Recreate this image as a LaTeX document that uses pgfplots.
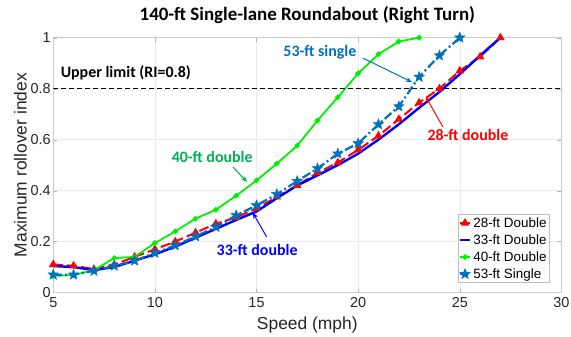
\documentclass[border=0pt]{standalone}
\usepackage{fontspec}
\setmainfont{Liberation Sans}
\newfontfamily\calib{Carlito}
\usepackage{pgfplots}
\pgfplotsset{compat=1.18}
\usetikzlibrary{arrows.meta}
\definecolor{mblue}{rgb}{0,0.447,0.741}
\definecolor{tgreen}{RGB}{0,176,80}
\definecolor{mgreen}{RGB}{0,240,0}
\definecolor{ticktxt}{RGB}{38,38,38}
\pgfdeclareplotmark{fstar}{%
  \pgfpathmoveto{\pgfpointpolar{90}{\pgfplotmarksize}}%
  \pgfpathlineto{\pgfpointpolar{126}{0.42\pgfplotmarksize}}%
  \pgfpathlineto{\pgfpointpolar{162}{\pgfplotmarksize}}%
  \pgfpathlineto{\pgfpointpolar{198}{0.42\pgfplotmarksize}}%
  \pgfpathlineto{\pgfpointpolar{234}{\pgfplotmarksize}}%
  \pgfpathlineto{\pgfpointpolar{270}{0.42\pgfplotmarksize}}%
  \pgfpathlineto{\pgfpointpolar{306}{\pgfplotmarksize}}%
  \pgfpathlineto{\pgfpointpolar{342}{0.42\pgfplotmarksize}}%
  \pgfpathlineto{\pgfpointpolar{18}{\pgfplotmarksize}}%
  \pgfpathlineto{\pgfpointpolar{54}{0.42\pgfplotmarksize}}%
  \pgfpathclose\pgfusepathqfillstroke}
\begin{document}
\begin{tikzpicture}
\useasboundingbox (-53.3bp,-44.3bp) rectangle (518bp,292.7bp);
\begin{axis}[
  at={(0,0)}, anchor=south west,
  scale only axis, width=508.4bp, height=255bp,
  xmin=5, xmax=30, ymin=0, ymax=1,
  xtick={5,10,...,30}, ytick={0,0.2,0.4,0.6,0.8,1},
  yticklabels={0,0.2,0.4,0.6,0.8,1},
  /pgf/number format/assume math mode=true,
  tick label style={font=\fontsize{14.5}{16}\selectfont, text=ticktxt},
  xticklabel style={yshift=-1.5bp},
  yticklabel style={xshift=1bp},
  label style={font=\fontsize{17.5}{19}\selectfont, text=ticktxt},
  xlabel={Speed (mph)}, ylabel={Maximum rollover index},
  xlabel style={at={([yshift=-32bp]axis description cs:0.5,0)}, anchor=center},
  ylabel style={at={([xshift=-33bp]axis description cs:0,0.5)}, anchor=center},
  title={\calib\bfseries 140-ft Single-lane Roundabout (Right Turn)},
  title style={at={([yshift=17bp]axis description cs:0.5,1)}, anchor=center, font=\fontsize{19}{21}\selectfont},
  axis line style={black!20},
  tick style={black!30, major tick length=4pt},
  tick align=inside,
  grid=major, major grid style={black!8},
  legend style={at={(0.977,0.038)}, anchor=south east, font=\fontsize{13.5}{15}\selectfont,
    draw=black!25, inner sep=1pt, row sep=1.8pt, cells={anchor=west}},
  legend cell align=left,
  legend image code/.code={\draw[mark repeat=2,mark phase=2,#1] plot coordinates {(0cm,0cm) (0.18cm,0cm) (0.36cm,0cm)};},
]
\addplot[red, line width=2pt, dash pattern=on 10pt off 4pt, mark=triangle*, mark size=3pt, mark options={solid}] coordinates {
(5,0.11)(6,0.105)(7,0.092)(8,0.11)(9,0.14)(10,0.17)(11,0.20)(12,0.235)(13,0.27)(14,0.295)(15,0.33)(16,0.375)(17,0.42)(18,0.47)(19,0.51)(20,0.56)(21,0.615)(22,0.68)(23,0.745)(24,0.80)(25,0.87)(26,0.925)(27,1.0)};
\addlegendentry{28-ft Double}
\addplot[blue, line width=2.4pt] coordinates {
(5,0.104)(6,0.10)(7,0.088)(8,0.10)(9,0.125)(10,0.15)(11,0.18)(12,0.215)(13,0.25)(14,0.285)(15,0.318)(16,0.37)(17,0.42)(18,0.46)(19,0.50)(20,0.545)(21,0.60)(22,0.66)(23,0.725)(24,0.787)(25,0.857)(26,0.93)(27,1.0)};
\addlegendentry{33-ft Double}
\addplot[mgreen, line width=1.8pt, mark=*, mark size=1.8pt] coordinates {
(5,0.065)(6,0.069)(7,0.088)(8,0.135)(9,0.14)(10,0.194)(11,0.24)(12,0.29)(13,0.325)(14,0.38)(15,0.44)(16,0.506)(17,0.576)(18,0.675)(19,0.766)(20,0.86)(21,0.935)(22,0.985)(23,1.0)};
\addlegendentry{40-ft Double}
\addplot[mblue, line width=2.2pt, dash pattern=on 9pt off 3pt on 2pt off 3pt, mark=fstar, mark size=5.5pt, mark options={solid, line width=0.5pt, fill=mblue}] coordinates {
(5,0.07)(6,0.07)(7,0.085)(8,0.105)(9,0.125)(10,0.155)(11,0.185)(12,0.22)(13,0.257)(14,0.303)(15,0.342)(16,0.386)(17,0.437)(18,0.487)(19,0.545)(20,0.585)(21,0.66)(22,0.73)(23,0.846)(24,0.93)(25,1.0)};
\addlegendentry{53-ft Single}
\draw[black, line width=1pt, dash pattern=on 5pt off 3pt] (axis cs:5,0.8) -- (axis cs:30,0.8);
\node[font=\calib\bfseries\fontsize{16}{18}\selectfont, anchor=west, inner sep=0pt] at (axis cs:5.36,0.862) {Upper limit (RI=0.8)};
\node[font=\calib\bfseries\fontsize{16}{18}\selectfont, text=mblue] at (axis cs:18.12,0.944) {53-ft single};
\draw[mblue, line width=1pt, -{Stealth[length=6pt,width=5pt]}] (axis cs:20.23,0.92) -- (axis cs:22.64,0.826);
\node[font=\calib\bfseries\fontsize{16}{18}\selectfont, text=tgreen] at (axis cs:12.82,0.532) {40-ft double};
\draw[tgreen, line width=1pt, -{Stealth[length=6pt,width=5pt]}] (axis cs:13.84,0.493) -- (axis cs:14.53,0.434);
\node[font=\calib\bfseries\fontsize{16}{18}\selectfont, text=blue] at (axis cs:15.03,0.168) {33-ft double};
\draw[blue, line width=1pt, -{Stealth[length=6pt,width=5pt]}] (axis cs:15.5,0.218) -- (axis cs:14.82,0.313);
\node[font=\calib\bfseries\fontsize{16}{18}\selectfont, text=red] at (axis cs:25.4,0.618) {28-ft double};
\draw[red, line width=1pt, -{Stealth[length=6pt,width=5pt]}] (axis cs:24.17,0.65) -- (axis cs:23.33,0.768);
\end{axis}
\end{tikzpicture}
\end{document}
